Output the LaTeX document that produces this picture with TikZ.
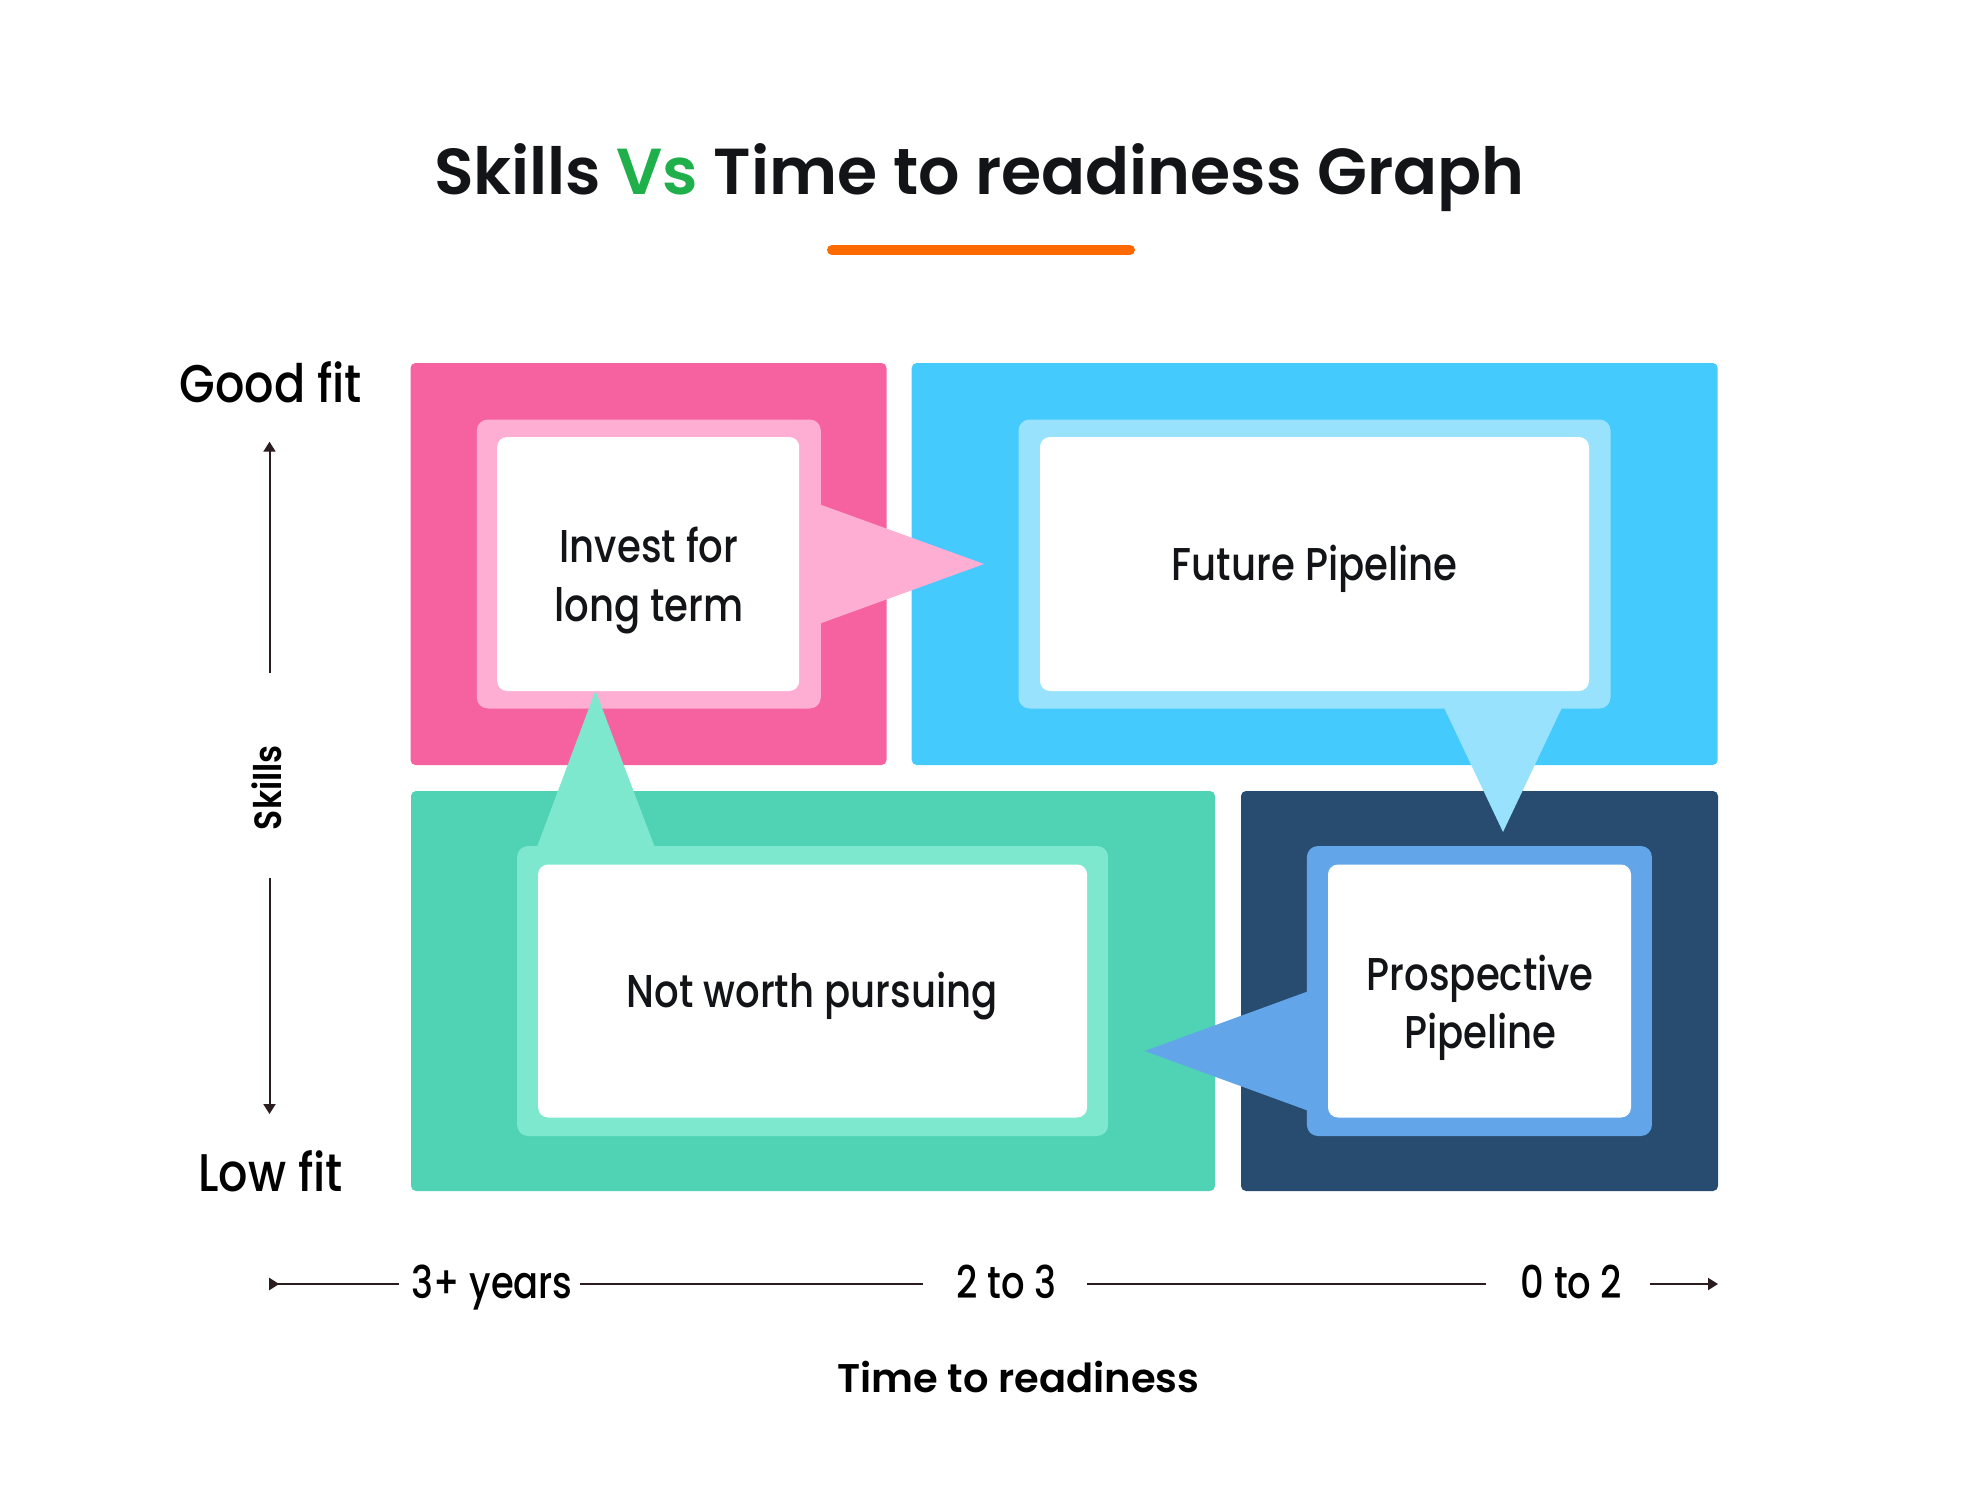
\documentclass[tikz,border=0pt]{standalone}
\usepackage{fontspec}
\usetikzlibrary{arrows.meta,calc}
\newfontfamily\titlefont{Poppins SemiBold}
\newfontfamily\bodyfont[FakeStretch=0.84]{Poppins Medium}
\newfontfamily\fitfont[FakeStretch=0.87]{Poppins Medium}
\newfontfamily\axfont[FakeStretch=0.82]{Poppins Medium}
\newfontfamily\semifont[FakeStretch=0.87]{Poppins SemiBold}
\definecolor{pinkO}{HTML}{F662A0}
\definecolor{pinkL}{HTML}{FFAED3}
\definecolor{blueO}{HTML}{45CAFE}
\definecolor{blueL}{HTML}{98E2FD}
\definecolor{greenO}{HTML}{4FD3B4}
\definecolor{greenL}{HTML}{7EE8CF}
\definecolor{navyO}{HTML}{284C6F}
\definecolor{blueM}{HTML}{62A6E9}
\definecolor{orangeU}{HTML}{FF6A00}
\definecolor{vsgreen}{HTML}{1FAF4B}
\definecolor{ink}{HTML}{121417}
\definecolor{axisc}{HTML}{2B1D1F}
\begin{document}
\begin{tikzpicture}[x=1pt,y=-1pt,
  panel/.style={rectangle, inner sep=0pt, outer sep=0pt, draw=none, rounded corners=5pt},
  frame/.style={rectangle, inner sep=0pt, outer sep=0pt, draw=none, rounded corners=11pt},
  card/.style={rectangle, inner sep=0pt, outer sep=0pt, draw=none, fill=white, rounded corners=10pt},
  boxtxt/.style={inner sep=0pt, text=ink, font=\bodyfont\fontsize{46}{55}\selectfont},
  fittxt/.style={inner sep=0pt, text=black, font=\fitfont\fontsize{53}{62}\selectfont},
  axtxt/.style={inner sep=0pt, text=black, font=\axfont\fontsize{45}{54}\selectfont},
  axisline/.style={draw=axisc, line width=2pt},
  tipA/.tip={Triangle[length=10pt,width=12pt]}
]
\useasboundingbox[fill=white] (0,0) rectangle (1961,1507);

% title
\node[anchor=base, inner sep=0pt, text=ink, font=\titlefont\fontsize{65}{77}\selectfont] (title) at (979.3,194)
  {Skills \textcolor{vsgreen}{Vs} Time to readiness Graph};
\coordinate (ulL) at (832,250);
\coordinate (ulR) at (1130,250);
\draw[orangeU, line width=10pt, line cap=round] (ulL) -- (ulR);

% outer panels
\node[panel, fill=pinkO, minimum width=476pt, minimum height=402pt] (po) at (648.5,564) {};
\node[panel, fill=blueO, minimum width=806pt, minimum height=402pt] (bo) at (1314.7,564) {};
\node[panel, fill=greenO, minimum width=804pt, minimum height=400pt] (go) at (813,991) {};
\node[panel, fill=navyO, minimum width=477pt, minimum height=400pt] (no) at (1479.5,991) {};

% light frames
\node[frame, fill=pinkL, minimum width=344pt, minimum height=289pt] (pl) at (648.8,564) {};
\node[frame, fill=blueL, minimum width=592pt, minimum height=289pt] (bl) at (1314.5,564) {};
\node[frame, fill=greenL, minimum width=591pt, minimum height=290pt] (gl) at (812.6,991) {};
\node[frame, fill=blueM, minimum width=345pt, minimum height=290pt] (nl) at (1479.4,991) {};

% pointers
\coordinate (ipTip) at (984,564);
\coordinate (fpTip) at (1503,832);
\coordinate (nwTip) at (595.5,690.7);
\coordinate (ppTip) at (1144.7,1051);
\fill[pinkL] ($(pl.east)+(-2,-60)$) -- (ipTip) -- ($(pl.east)+(-2,60)$) -- cycle;
\fill[blueL] ($(bl.south)+(129,-2)$) -- (fpTip) -- ($(bl.south)+(248,-2)$) -- cycle;
\fill[greenL] ($(gl.north)+(-276,2)$) -- (nwTip) -- ($(gl.north)+(-157.5,2)$) -- cycle;
\fill[blueM] ($(nl.west)+(2,0)$) -- (ppTip) -- ($(nl.west)+(2,120)$) -- cycle;

% white cards
\node[card, minimum width=302pt, minimum height=254pt] (pw) at (648.2,564) {};
\node[card, minimum width=549pt, minimum height=254pt] (bw) at (1314.5,564) {};
\node[card, minimum width=549pt, minimum height=253pt] (gw) at (812.6,991) {};
\node[card, minimum width=303pt, minimum height=253pt] (nw) at (1479.5,991) {};

% card texts
\node[boxtxt, anchor=base] (ip1) at (649,562.7) {Invest for};
\node[boxtxt, anchor=base] (ip2) at (649,621.7) {long term};
\node[boxtxt, anchor=base] (fp) at (1314.7,580) {Future Pipeline};
\node[boxtxt, anchor=base] (nwp) at (812.2,1007.7) {Not worth pursuing};
\node[boxtxt, anchor=base] (pp1) at (1480.3,990.7) {Prospective};
\node[boxtxt, anchor=base] (pp2) at (1480.3,1048.3) {Pipeline};

% vertical axis
\node[fittxt, anchor=base] (good) at (270.8,402) {Good fit};
\node[fittxt, anchor=base] (low) at (270.6,1191) {Low fit};
\node[inner sep=0pt, text=black, font=\semifont\fontsize{38}{44}\selectfont, rotate=90, anchor=base] (skills) at (281.7,787.5) {Skills};
\coordinate (upTail) at (269.5,672.7);
\coordinate (upTip) at (269.5,441.7);
\coordinate (dnTail) at (269.5,878.3);
\coordinate (dnTip) at (269.5,1114);
\draw[axisline, -{tipA}] (upTail) -- (upTip);
\draw[axisline, -{tipA}] (dnTail) -- (dnTip);

% horizontal axis
\coordinate (axL) at (269.2,1284);
\coordinate (axR) at (1718,1284);
\node[axtxt, anchor=base] (a1) at (492.2,1298.3) {3+ years};
\node[axtxt, anchor=base] (a2) at (1006.7,1298.3) {2 to 3};
\node[axtxt, anchor=base] (a3) at (1571.6,1298.3) {0 to 2};
\draw[axisline, {Triangle[reversed,length=10pt,width=12pt]}-] (axL) -- ([xshift=-13pt]a1.west |- axL);
\draw[axisline] ([xshift=7pt]a1.east |- axL) -- ([xshift=-34pt]a2.west |- axL);
\draw[axisline] ([xshift=30pt]a2.east |- axL) -- ([xshift=-35pt]a3.west |- axL);
\draw[axisline, -{tipA}] ([xshift=27pt]a3.east |- axL) -- (axR);
\node[anchor=base, inner sep=0pt, text=black, font=\titlefont\fontsize{40}{48}\selectfont] (xlab) at (1018.5,1392.7) {Time to readiness};
\end{tikzpicture}
\end{document}
